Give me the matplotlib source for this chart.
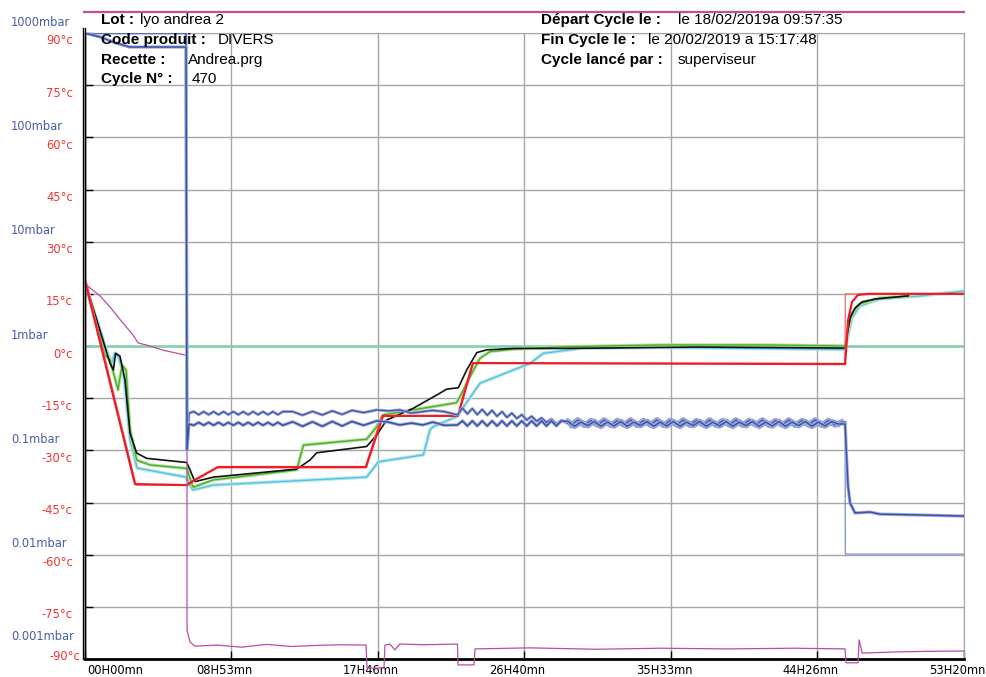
import matplotlib
matplotlib.use('Agg')
import matplotlib.pyplot as plt
import matplotlib.transforms as mtransforms
from matplotlib.lines import Line2D

# ---- axis ticks / labels ----
x_max_h = 53.333
x_tick_labels = ['00H00mn', '08H53mn', '17H46mn', '26H40mn', '35H33mn', '44H26mn', '53H20mn']
temp_ticks = [90, 75, 60, 45, 30, 15, 0, -15, -30, -45, -60, -75, -90]
temp_labels = ['90°c', '75°c', '60°c', '45°c', '30°c', '15°c', '0°c', '-15°c', '-30°c',
               '-45°c', '-60°c', '-75°c', '-90°c']
press_ticks = [1000, 100, 10, 1, 0.1, 0.01, 0.001]
press_labels = ['1000mbar', '100mbar', '10mbar', '1mbar', '0.1mbar', '0.01mbar', '0.001mbar']

# ---- header ----
head_left_keys = ['Lot :', 'Code produit :', 'Recette :', 'Cycle N° :']
head_left_vals = ['lyo andrea 2', 'DIVERS', 'Andrea.prg', '470']
head_right_keys = ['Départ Cycle le :', 'Fin Cycle le :', 'Cycle lancé par :']
head_right_vals = ['le 18/02/2019a 09:57:35', 'le 20/02/2019 a 15:17:48', 'superviseur']

# ---- temperatures (hours, °C) ----
red_sp_t = [0, 3.1, 6.2, 8.0, 17.0, 18.0, 22.6, 23.5, 46.12, 46.13, 53.33]
red_sp_v = [20, -40, -40, -35, -35, -20, -20, -5, -5, 15, 15]

red_t = [0, 3.03, 6.19, 6.55, 8.07, 17.05, 18.08, 22.63, 23.54, 46.12, 46.3, 46.54, 46.9, 47.6, 53.33]
red_v = [18.7, -39.7, -40.0, -38.8, -34.8, -34.8, -20.1, -20.1, -4.9, -5.2, 7.5, 12.7, 14.7, 15.0, 15.0]

black_t = [0, 1.52, 1.72, 1.86, 2.12, 2.43, 2.73, 3.14, 3.74, 6.17, 6.37, 6.67, 7.79, 12.85,
           13.65, 14.06, 17.09, 17.7, 18.3, 19.92, 21.34, 21.95, 22.65, 23.16, 23.77, 24.38,
           25.99, 29.0, 37.3, 46.12, 46.24, 46.42, 46.72, 47.15, 47.94, 49.94]
black_v = [18.5, -5.0, -6.9, -2.1, -2.9, -9.8, -25.1, -30.8, -32.3, -33.5, -35.6, -39.0, -37.7, -35.4,
           -32.8, -30.7, -28.9, -25.6, -21.3, -17.9, -14.1, -12.4, -12.0, -6.9, -1.9, -1.1,
           -0.7, -0.7, -0.3, -0.6, 3.2, 8.1, 10.9, 12.7, 13.5, 14.4]

green_t = [0, 1.21, 1.52, 2.0, 2.25, 2.49, 2.73, 3.14, 3.94, 6.17, 6.47, 6.57, 7.79, 12.85,
           13.25, 17.09, 17.7, 18.1, 22.55, 22.75, 23.36, 23.97, 24.58, 25.97, 29.23, 34.9,
           41.4, 46.12, 46.3, 46.5, 47.0, 48.2, 50.0]
green_v = [18.4, -2.6, -4.0, -12.6, -5.5, -6.9, -24.1, -32.8, -34.2, -35.2, -39.5, -40.6, -38.5, -35.6,
           -28.5, -26.8, -23.2, -19.8, -16.3, -14.6, -8.8, -3.5, -1.6, -0.9, -0.2, 0.3,
           0.3, 0.0, 4.6, 9.2, 12.1, 13.8, 14.4]

cyan_t = [0, 1.40, 1.64, 1.82, 2.06, 2.37, 2.73, 3.16, 6.13, 6.37, 6.55, 7.77, 17.09, 17.8,
          20.53, 20.93, 21.13, 22.55, 23.97, 27.0, 27.81, 30.04, 34.9, 46.12, 46.3, 46.54,
          47.0, 48.2, 50.7, 53.33]
cyan_v = [18.1, -2.6, -4.6, -2.0, -3.4, -9.2, -27.0, -35.1, -37.7, -40.0, -41.4, -40.0, -37.7, -33.3,
          -31.3, -24.1, -23.2, -20.3, -10.7, -5.0, -2.1, -0.7, -0.4, -1.0, 3.2, 8.1,
          11.5, 13.5, 14.4, 15.8]

magenta_t = [0, 0.3, 0.91, 1.52, 2.25, 2.91, 3.22, 3.94, 4.73, 6.07, 6.19, 6.19, 6.37, 6.67,
             8.0, 9.5, 11.0, 12.5, 14.0, 15.5, 17.05, 17.11, 18.14, 18.2, 18.5, 18.8, 19.1,
             20.5, 22.6, 22.63, 23.6, 23.66, 27.0, 31.0, 35.0, 39.0, 43.0, 46.12, 46.18,
             46.9, 46.97, 47.15, 49.0, 51.0, 53.33]
magenta_v = [18.0, 16.7, 14.4, 11.2, 6.9, 3.2, 0.9, 0.0, -1.2, -2.6, -2.9, -81.7, -85.1, -86.3,
             -86.0, -86.6, -85.8, -86.4, -86.1, -85.9, -86.0, -92.6, -92.6, -86.0, -85.7, -87.4, -85.7,
             -85.9, -85.7, -91.7, -91.7, -87.1, -86.8, -87.2, -86.9, -87.1, -86.9, -87.1, -91.1,
             -91.1, -84.5, -88.3, -88.0, -87.8, -87.7]

# ---- pressures (hours, mbar) ----
pa_t = [0, 0.9, 1.8, 2.7, 6.13, 6.19, 6.31,
        6.6, 6.9, 7.2, 7.5, 7.8, 8.1, 8.4, 8.7, 9.0, 9.3, 9.6, 9.9, 10.2, 10.5, 10.8, 11.1, 11.4, 11.7, 12.0,
        12.6, 13.2, 13.8, 14.4, 15.0, 15.6, 16.2, 16.9,
        17.7, 18.4, 19.1, 19.8, 20.5, 21.1, 21.8, 22.6,
        22.9, 23.2, 23.5, 23.8, 24.1, 24.4, 24.7, 25.0, 25.3, 25.6, 25.9, 26.2, 26.5, 26.8, 27.1,
        27.4, 27.7, 28.0, 28.3, 28.6, 28.9,
        29.3, 29.7, 30.1, 30.5, 30.9, 31.3, 31.7, 32.1, 32.5, 32.9, 33.3, 33.7, 34.1, 34.5, 34.9,
        35.3, 35.7, 36.1, 36.5, 36.9, 37.3, 37.7, 38.1, 38.5, 38.9, 39.3, 39.7, 40.1, 40.5, 40.9,
        41.3, 41.7, 42.1, 42.5, 42.9, 43.3, 43.7, 44.1, 44.5, 44.9, 45.3, 45.7,
        46.12, 46.18, 46.30, 46.42, 46.72, 47.63, 48.24, 50.97, 53.33]
pa_mbar = [790, 725, 640, 580, 580, 0.079, 0.140,
           0.136, 0.145, 0.136, 0.145, 0.136, 0.145, 0.136, 0.145, 0.136, 0.145, 0.136, 0.145, 0.136,
           0.145, 0.136, 0.145, 0.136, 0.145, 0.136,
           0.147, 0.133, 0.147, 0.133, 0.148, 0.134, 0.148, 0.136,
           0.150, 0.146, 0.137, 0.143, 0.137, 0.146, 0.136, 0.137,
           0.150, 0.134, 0.150, 0.134, 0.150, 0.134, 0.150, 0.134, 0.150, 0.134, 0.150, 0.134, 0.150,
           0.134, 0.150, 0.134, 0.150, 0.134, 0.150, 0.134, 0.150,
           0.148, 0.133, 0.146, 0.135, 0.148, 0.133, 0.146, 0.134, 0.148, 0.133, 0.146, 0.135, 0.148,
           0.133, 0.146, 0.134, 0.148, 0.133, 0.146, 0.135, 0.148, 0.133, 0.146, 0.134, 0.148, 0.133,
           0.146, 0.135, 0.148, 0.133, 0.146, 0.134, 0.148, 0.133, 0.146, 0.135, 0.148, 0.133, 0.146,
           0.134, 0.148, 0.140,
           0.140, 0.0841, 0.0348, 0.0244, 0.0196, 0.0200, 0.0191, 0.0187, 0.0183]

pb_t = [0, 6.13, 6.19, 6.31,
        6.6, 6.9, 7.2, 7.5, 7.8, 8.1, 8.4, 8.7, 9.0, 9.3, 9.6, 9.9, 10.2, 10.5, 10.8, 11.1, 11.4, 11.7, 12.0,
        12.6, 13.2, 13.8, 14.4, 15.0, 15.6, 16.2, 16.9,
        17.7, 18.4, 19.1, 19.8, 20.5, 21.1, 21.8, 22.6,
        22.9, 23.2, 23.5, 23.8, 24.1, 24.4, 24.7, 25.0, 25.3, 25.6, 25.9, 26.2, 26.5, 26.8, 27.1,
        27.4, 27.7, 28.0, 28.3, 28.6, 28.9,
        29.5, 29.9, 30.3, 30.7, 31.1, 31.5, 31.9, 32.3, 32.7, 33.1, 33.5, 33.9, 34.3, 34.7, 35.1,
        35.5, 35.9, 36.3, 36.7, 37.1, 37.5, 37.9, 38.3, 38.7, 39.1, 39.5, 39.9, 40.3, 40.7, 41.1,
        41.5, 41.9, 42.3, 42.7, 43.1, 43.5, 43.9, 44.3, 44.7, 45.1, 45.5, 45.9,
        46.12, 46.13, 53.33]
pb_mbar = [790, 790, 0.079, 0.178,
           0.184, 0.172, 0.184, 0.172, 0.184, 0.172, 0.184, 0.172, 0.184, 0.172, 0.184, 0.172, 0.184,
           0.172, 0.184, 0.172, 0.184, 0.172, 0.184,
           0.184, 0.170, 0.185, 0.171, 0.187, 0.173, 0.189, 0.180,
           0.191, 0.187, 0.191, 0.178, 0.184, 0.189, 0.184, 0.171,
           0.199, 0.175, 0.197, 0.172, 0.193, 0.170, 0.189, 0.166, 0.184, 0.162, 0.178, 0.158, 0.172,
           0.153, 0.166, 0.149, 0.160, 0.145, 0.156, 0.140, 0.152,
           0.137, 0.153, 0.136, 0.151, 0.137, 0.153, 0.136, 0.151, 0.137, 0.153, 0.136, 0.151, 0.137,
           0.153, 0.136, 0.151, 0.137, 0.153, 0.136, 0.151, 0.137, 0.153, 0.136, 0.151, 0.137, 0.153,
           0.136, 0.151, 0.137, 0.153, 0.136, 0.151, 0.137, 0.153, 0.136, 0.151, 0.137, 0.153, 0.136,
           0.151, 0.137, 0.146,
           0.146, 0.0079, 0.0079]

W, H = 986, 677
fig = plt.figure(figsize=(W / 100, H / 100), dpi=100)
L, R, T, B = 85, 964, 33, 659
ax = fig.add_axes([L / W, 1 - B / H, (R - L) / W, (B - T) / H])
ax.set_xlim(0, x_max_h)
ax.set_ylim(-90, 90)

# grid
xt = [x_max_h * i / 6 for i in range(7)]
ax.set_xticks(xt)
ax.set_xticklabels([])
ax.set_yticks(temp_ticks)
ax.set_yticklabels([])
ax.grid(True, color='#a6a6a6', lw=1.0)
ax.set_axisbelow(True)
ax.tick_params(direction='in', length=6, width=1, color='black', pad=0)
for s in ['top', 'right']:
    ax.spines[s].set_color('#a6a6a6')
ax.spines['bottom'].set_linewidth(2)
ax.spines['left'].set_linewidth(1)
fig.add_artist(Line2D([(L - 2) / W] * 2, [1 - B / H, 1 - (T - 5) / H], transform=fig.transFigure,
                      color='black', lw=1))
fig.add_artist(Line2D([L / W] * 2, [1 - B / H, 1 - (T - 5) / H], transform=fig.transFigure,
                      color='black', lw=1))
# magenta bar above
fig.add_artist(Line2D([(L - 1) / W, R / W], [1 - 12 / H] * 2, transform=fig.transFigure,
                      color='#c0509f', lw=1.6))

# temperature traces
ax.axhline(0, color='#82cfa8', lw=1.8, zorder=2)
ax.plot(cyan_t, cyan_v, color='#b7e6f0', lw=2.6, zorder=3)
ax.plot(cyan_t, cyan_v, color='#56c3dc', lw=1.0, zorder=3)
ax.plot(green_t, green_v, color='#b4e09c', lw=2.4, zorder=3)
ax.plot(green_t, green_v, color='#4caf2c', lw=1.0, zorder=3)
ax.plot(black_t, black_v, color='#111111', lw=1.2, zorder=4)
ax.plot(red_sp_t, red_sp_v, color='#f47a7a', lw=1.0, zorder=4)
ax.plot(red_t, red_v, color='#ee1c24', lw=1.6, zorder=5)
ax.plot(magenta_t, magenta_v, color='#b54ea6', lw=0.9, zorder=5, clip_on=False)

# pressure traces on log axis
ax2 = ax.twinx()
ax2.set_yscale('log')
ax2.set_ylim(10 ** -3.109, 10 ** 2.898)
ax2.axis('off')
ax2.plot(pb_t[60:102], pb_mbar[60:102], color='#8e9dd2', lw=4.0)
ax2.plot(pa_t[63:105], pa_mbar[63:105], color='#8e9dd2', lw=4.0)
ax2.plot(pb_t[:-2], pb_mbar[:-2], color='#a3afdc', lw=2.2)
ax2.plot(pb_t[:-2], pb_mbar[:-2], color='#4258a8', lw=1.0)
ax2.plot(pb_t[-3:], pb_mbar[-3:], color='#7b8dcc', lw=0.9)
ax2.plot(pa_t, pa_mbar, color='#a3afdc', lw=2.4)
ax2.plot(pa_t, pa_mbar, color='#3a52a4', lw=1.1)

# axis labels
lab_font = dict(family='DejaVu Sans', fontsize=8.3)
px = fig.dpi_scale_trans
for v, s in zip(temp_ticks, temp_labels):
    if v == -90:
        tr = ax.get_yaxis_transform() + mtransforms.ScaledTranslation(-0.05, 0.03, px)
    else:
        tr = ax.get_yaxis_transform() + mtransforms.ScaledTranslation(-0.12, -0.08, px)
    ax.text(0, v, s, transform=tr, ha='right', va='center', color='#ef3535', **lab_font)
for v, s in zip(press_ticks, press_labels):
    dy = 0.116 if v == 0.001 else 0.0
    tr = ax2.get_yaxis_transform() + mtransforms.ScaledTranslation(-0.74, dy, px)
    ax2.text(0, v, s, transform=tr, ha='left', va='center', color='#4a5ea6', clip_on=False, **lab_font)
for i, (v, s) in enumerate(zip(xt, x_tick_labels)):
    if i == 0:
        tr = ax.get_xaxis_transform() + mtransforms.ScaledTranslation(0.02, -0.11, px)
        ha = 'left'
    else:
        tr = ax.get_xaxis_transform() + mtransforms.ScaledTranslation(-0.07, -0.11, px)
        ha = 'center'
    ax.text(v, 0, s, transform=tr, ha=ha, va='center', color='black', **lab_font)

# header
hfont = dict(family='Liberation Sans', fontsize=11, va='center')
ys = [20, 40, 60, 79]
lx = [140, 218, 188, 192]
for k, v, y, x in zip(head_left_keys, head_left_vals, ys, lx):
    fig.text(101 / W, 1 - y / H, k, fontweight='bold', **hfont)
    fig.text(x / W, 1 - y / H, v, **hfont)
rx = [678, 648, 678]
for k, v, y, x in zip(head_right_keys, head_right_vals, ys, rx):
    fig.text(541 / W, 1 - y / H, k, fontweight='bold', **hfont)
    fig.text(x / W, 1 - y / H, v, **hfont)

fig.savefig('out.png', dpi=100)
